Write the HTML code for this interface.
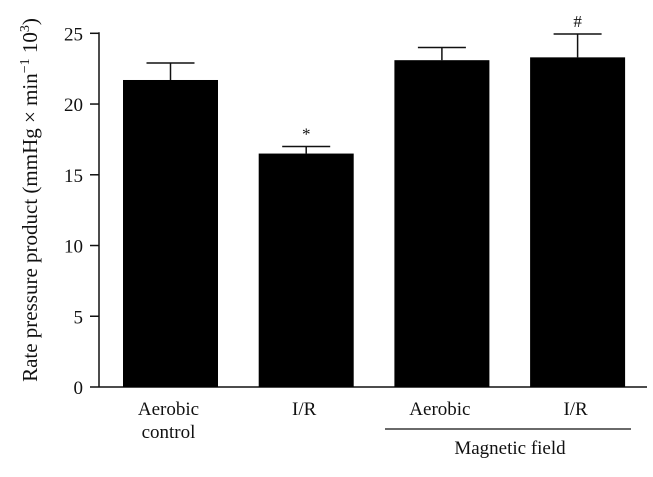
<!DOCTYPE html>
<html><head><meta charset="utf-8"><style>
body{margin:0;background:#fff}
svg text{font-family:"Liberation Serif",serif;fill:#111}
</style></head><body>
<svg width="653" height="472" id="c"></svg>
<script>
const categories=["Aerobic control","I/R","Aerobic","I/R"];
const values=[21.7,16.5,23.1,23.3];
const errors=[1.2,0.5,0.9,1.65];
const markers=["","*","","#"];
const yTicks=[0,5,10,15,20,25];
const svg=document.getElementById('c');
const NS='http://www.w3.org/2000/svg';
const x0=99,x1=647,yBase=387,yTop=33.3,yMax=25;
const y=v=>yBase-(yBase-yTop)*v/yMax;
const barW=95,firstX=123,step=135.7;
const bx=i=>firstX+i*step;
function mk(t,a){const e=document.createElementNS(NS,t);for(const k in a)e.setAttribute(k,a[k]);svg.appendChild(e);return e;}
let e;
e=mk('line',{x1:x0,y1:y(25)-1,x2:x0,y2:yBase,stroke:'#111','stroke-width':1.5});


e=mk('line',{x1:x0,y1:yBase,x2:x1,y2:yBase,stroke:'#111','stroke-width':1.5});


yTicks.forEach(t=>{
 e=mk('line',{x1:x0-9,y1:y(t),x2:x0,y2:y(t),stroke:'#111','stroke-width':1.5});
 
 
 e=mk('text',{x:x0-16,y:y(t)+7,'text-anchor':'end','font-size':19});
 e.textContent=t;
 
 
});
values.forEach((v,i)=>{
 const cx=bx(i)+barW/2;
 e=mk('line',{x1:cx,y1:y(v),x2:cx,y2:y(v+errors[i]),stroke:'#111','stroke-width':1.5});
 
 
 e=mk('line',{x1:cx-24,y1:y(v+errors[i]),x2:cx+24,y2:y(v+errors[i]),stroke:'#111','stroke-width':1.5});
 
 
 e=mk('rect',{x:bx(i),y:y(v),width:barW,height:yBase-y(v),fill:'#000'});
 
 
 if(markers[i]){
  e=mk('text',{x:cx,y:y(v+errors[i])-7,'text-anchor':'middle','font-size':17});
  e.textContent=markers[i];
  
  
 }
 const parts=categories[i].split(' ');
 parts.forEach((p,j)=>{
  e=mk('text',{x:cx-2,y:415+j*23,'text-anchor':'middle','font-size':19});
  e.textContent=p;
  
  
 });
});
e=mk('line',{x1:385,y1:429,x2:631,y2:429,stroke:'#111','stroke-width':1.3});


e=mk('text',{x:510,y:454,'text-anchor':'middle','font-size':19});
e.textContent='Magnetic field';


e=mk('text',{x:0,y:0,'text-anchor':'middle','font-size':21,transform:'translate(37,200) rotate(-90)'});
e.innerHTML='Rate pressure product (mmHg × min<tspan dy="-8" font-size="14">−1</tspan><tspan dy="8"> 10</tspan><tspan dy="-8" font-size="14">3</tspan><tspan dy="8">)</tspan>';


</script>
</body></html>
